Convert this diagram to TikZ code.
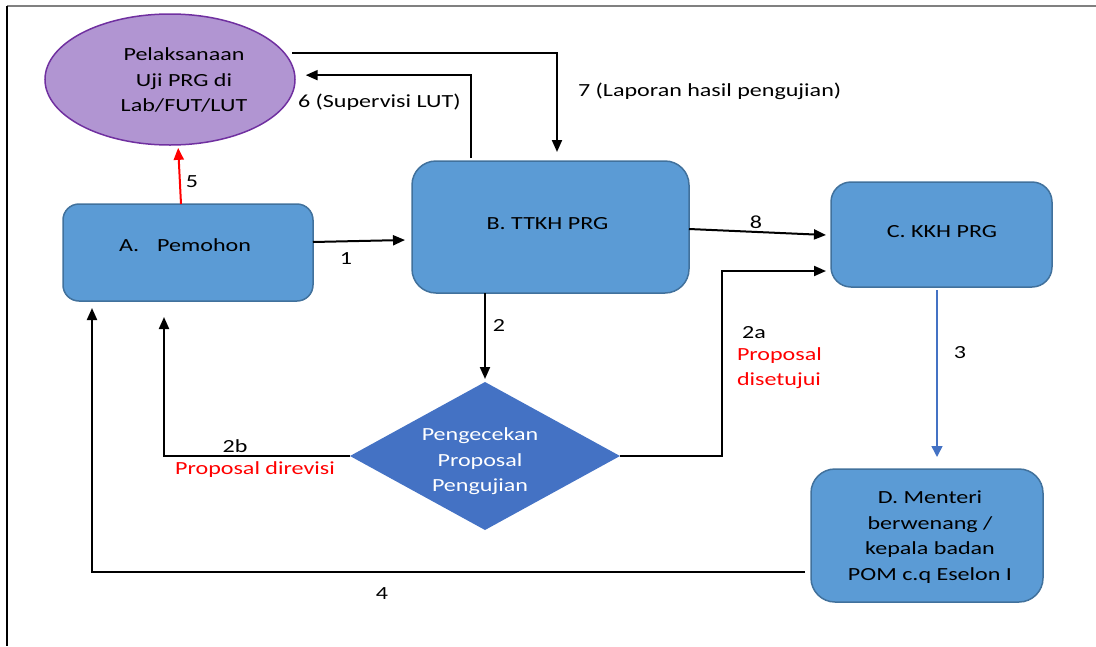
\documentclass[tikz,border=0pt]{standalone}
\usepackage{fontspec}
\setmainfont[FakeStretch=1.3]{Carlito}
\usetikzlibrary{arrows.meta,calc,shapes.geometric}
\definecolor{boxfill}{HTML}{5B9BD5}
\definecolor{boxline}{HTML}{41719C}
\definecolor{diafill}{HTML}{4472C4}
\definecolor{ellfill}{RGB}{177,149,210}
\definecolor{ellline}{HTML}{7030A0}
\definecolor{framegray}{HTML}{808080}
\begin{document}
\begin{tikzpicture}[x=1pt,y=-1pt,
  every node/.style={font=\fontsize{18.5}{25.5}\selectfont, inner sep=0pt, outer sep=0pt},
  box/.style={draw=boxline, fill=boxfill, line width=1.5pt, rectangle},
  txt/.style={align=center, text=black},
  conn/.style={draw=black, line width=2pt, -{Triangle[length=12pt,width=10pt]}},
  lab/.style={text=black},
  redlab/.style={text=red},
]
\useasboundingbox (0,0) rectangle (1096,646);

% page frame
\draw[framegray, line width=2pt] (7,6) -- (1096,6);
\draw[black, line width=1.5pt] (7,6) -- (7,646);

% process shapes
\node[ellipse, draw=ellline, fill=ellfill, line width=1.5pt,
      minimum width=250pt, minimum height=131pt] (ell) at (170,79.5) {};
\node[box, rounded corners=16pt, minimum width=250pt, minimum height=97pt] (A) at (188,252.5) {};
\node[box, rounded corners=24pt, minimum width=277pt, minimum height=132pt] (B) at (550.5,227) {};
\node[box, rounded corners=20pt, minimum width=221pt, minimum height=105pt] (C) at (941.5,234.5) {};
\node[box, rounded corners=24pt, minimum width=232pt, minimum height=133pt] (D) at (927,535.5) {};
\node[diamond, fill=diafill, minimum width=270pt, minimum height=148pt] (dia) at (485,456) {};

% shape texts
\node[txt] (ellt) at (184,80) {Pelaksanaan\\Uji PRG di\\Lab/FUT/LUT};
\node[txt] (At) at (185,245) {A.\hspace{18pt}Pemohon};
\node[txt] (Bt) at (547.5,224) {B. TTKH PRG};
\node[txt] (Ct) at (942,232) {C. KKH PRG};
\node[txt] (Dt) at (930,537) {D. Menteri\\berwenang /\\kepala badan\\POM c.q Eselon I};
\node[txt, text=white] (diat) at (480,461.5) {Pengecekan\\Proposal\\Pengujian};

% connectors
\draw[conn] ($(ell.13)+(8,0)$) -| ($(B.north)+(6.5,-9)$);
\draw[conn, shorten >=11pt] ($(B.north)+(-79.5,-3)$) |- (ell.2);
\draw[conn, draw=red, shorten >=3pt] ($(A.north)+(-7,0)$) -- (ell.-83);
\draw[conn] ($(A.east)+(0,-10.5)$) -- ($(B.west)+(-7,13)$);
\draw[conn] ($(B.east)+(0,2)$) -- ($(C.west)+(-5,0.5)$);
\draw[conn, shorten >=3pt] ($(B.south)+(-65.5,0)$) -- (dia.north);
\draw[conn] (dia.east) -| ($(C.west)+(-109,36.5)$) -- ($(C.west)+(-5,36.5)$);
\draw[conn] (dia.west) -| ($(A.south)+(-24,16)$);
\draw[conn] ($(D.west)+(-6,36.5)$) -| ($(A.south)+(-96,7)$);
\draw[draw=diafill, line width=1.5pt, -{Triangle[length=11pt,width=11pt]}]
  ($(C.south)+(-4.5,3)$) -- ($(D.north)+(10,-12)$);

% connector labels
\node[lab, anchor=west] (l7) at (578,91) {7 (Laporan hasil pengujian)};
\node[lab, anchor=west] (l6) at (298,102) {6 (Supervisi LUT)};
\node[lab] (l5) at (192,182) {5};
\node[lab] (l1) at (346,259) {1};
\node[lab] (l8) at (756,222) {8};
\node[lab] (l2) at (499,325) {2};
\node[lab] (l2a) at (754,333) {2a};
\node[redlab, align=left, anchor=west] (l2aok) at (737,368) {Proposal\\disetujui};
\node[lab] (l2b) at (235,446) {2b};
\node[redlab] (l2brev) at (255,470) {Proposal direvisi};
\node[lab] (l3) at (960,353) {3};
\node[lab] (l4) at (382,594) {4};
\end{tikzpicture}
\end{document}
